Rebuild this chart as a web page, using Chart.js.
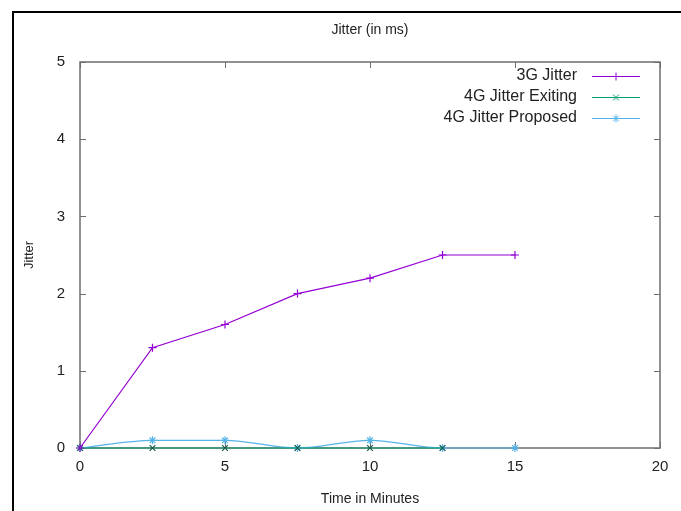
<!DOCTYPE html>
<html>
<head>
<meta charset="utf-8">
<script src="https://cdn.jsdelivr.net/npm/chart.js@4/dist/chart.umd.min.js"></script>
<style>
  html, body { margin: 0; padding: 0; background: #ffffff; }
  #wrap { width: 681px; height: 511px; position: relative; overflow: hidden; }
  canvas { display: block; }
</style>
</head>
<body>
<div id="wrap"><canvas id="c" width="681" height="511"></canvas></div>
<script>
// ---- data ----
const timeMinutes        = [0, 2.5, 5, 7.5, 10, 12.5, 15];
const jitter3G           = [0, 1.3, 1.6, 2.0, 2.2, 2.5, 2.5];
const jitter4GExisting   = [0, 0, 0, 0, 0, 0];
const jitter4GProposed   = [0, 0.1, 0.1, 0, 0.1, 0, 0];
const xTickValues        = [0, 5, 10, 15, 20];
const yTickValues        = [0, 1, 2, 3, 4, 5];
const seriesLabels       = ['3G Jitter', '4G Jitter Exiting', '4G Jitter Proposed'];
const chartTitle         = 'Jitter (in ms)';
const xAxisTitle         = 'Time in Minutes';
const yAxisTitle         = 'Jitter';

const FONT = '"Liberation Sans", Arial, sans-serif';

function toPoints(xs, ys) {
  return ys.map((y, i) => ({ x: xs[i], y: y }));
}

// outer frame (white background + black border)
const framePlugin = {
  id: 'frame',
  beforeDraw(chart) {
    const ctx = chart.ctx;
    ctx.save();
    ctx.fillStyle = '#ffffff';
    ctx.fillRect(0, 0, chart.width, chart.height);
    ctx.strokeStyle = '#000000';
    ctx.lineWidth = 2;
    ctx.strokeRect(13, 12, 720, 620);
    ctx.restore();
  }
};

// plot box with inward (mirrored) tick marks, gnuplot style
const boxPlugin = {
  id: 'box',
  beforeDatasetsDraw(chart) {
    const { ctx, chartArea: a, scales } = chart;
    ctx.save();
    ctx.strokeStyle = '#6e6e6e';
    ctx.lineWidth = 1.5;
    ctx.strokeRect(a.left, a.top, a.right - a.left, a.bottom - a.top);
    ctx.lineWidth = 1;
    ctx.beginPath();
    const tl = 6;
    yTickValues.forEach(v => {
      const y = Math.round(scales.y.getPixelForValue(v)) + 0.5;
      ctx.moveTo(a.left, y); ctx.lineTo(a.left + tl, y);
      ctx.moveTo(a.right, y); ctx.lineTo(a.right - tl, y);
    });
    xTickValues.forEach(v => {
      const x = Math.round(scales.x.getPixelForValue(v)) + 0.5;
      ctx.moveTo(x, a.bottom); ctx.lineTo(x, a.bottom - tl);
      ctx.moveTo(x, a.top); ctx.lineTo(x, a.top + tl);
    });
    ctx.stroke();
    ctx.restore();
  }
};

// gnuplot-style key: right-aligned text, sample line with marker to the right
const keyPlugin = {
  id: 'gnuKey',
  afterDatasetsDraw(chart) {
    const ctx = chart.ctx;
    const a = chart.chartArea;
    const textRight = a.right - 83;
    const lineL = a.right - 68, lineR = a.right - 20;
    const y0 = a.top + 14, dy = 21;
    ctx.save();
    ctx.font = '16px ' + FONT;
    ctx.textAlign = 'right';
    ctx.textBaseline = 'middle';
    chart.data.datasets.forEach((ds, i) => {
      const y = y0 + i * dy;
      ctx.fillStyle = '#222222';
      ctx.fillText(ds.label, textRight, y);
      ctx.strokeStyle = ds.borderColor;
      ctx.lineWidth = 1;
      ctx.beginPath();
      ctx.moveTo(lineL, y + 0.5); ctx.lineTo(lineR, y + 0.5);
      ctx.stroke();
      Chart.helpers.drawPoint(ctx, {
        pointStyle: ds.pointStyle, radius: ds.pointRadius, borderWidth: 1, rotation: 0
      }, (lineL + lineR) / 2, y + 0.5);
    });
    ctx.restore();
  }
};

const common = {
  borderWidth: 1.2,
  pointRadius: 4,
  pointBorderWidth: 1.2,
  pointBackgroundColor: 'transparent',
  fill: false,
  clip: false
};

new Chart(document.getElementById('c'), {
  type: 'line',
  data: {
    datasets: [
      Object.assign({}, common, {
        label: seriesLabels[0],
        data: toPoints(timeMinutes, jitter3G),
        borderColor: '#9400D3',
        pointBorderColor: '#9400D3',
        pointStyle: 'cross',
        tension: 0
      }),
      Object.assign({}, common, {
        label: seriesLabels[1],
        data: toPoints(timeMinutes, jitter4GExisting),
        borderColor: '#009E73',
        pointBorderColor: '#1a5a48',
        pointStyle: 'crossRot',
        tension: 0
      }),
      Object.assign({}, common, {
        label: seriesLabels[2],
        data: toPoints(timeMinutes, jitter4GProposed),
        borderColor: '#56B4E9',
        pointBorderColor: '#56B4E9',
        pointStyle: 'star',
        cubicInterpolationMode: 'monotone'
      })
    ]
  },
  options: {
    responsive: false,
    animation: false,
    devicePixelRatio: 1,
    layout: { padding: { left: 0, right: 21, top: 0, bottom: 0 } },
    plugins: {
      legend: { display: false },
      tooltip: { enabled: false },
      title: {
        display: true,
        text: chartTitle,
        fullSize: false,
        color: '#222222',
        font: { family: FONT, size: 14, weight: 'normal' },
        padding: { top: 22, bottom: 23.2 }
      }
    },
    scales: {
      x: {
        type: 'linear',
        min: 0, max: 20,
        afterFit(s) { s.height = 63; },
        afterBuildTicks(s) { s.ticks = xTickValues.map(v => ({ value: v })); },
        grid: { display: false, drawTicks: false },
        border: { display: false },
        ticks: { color: '#222222', font: { family: FONT, size: 15 }, padding: 10, maxRotation: 0 },
        title: {
          display: true, text: xAxisTitle, color: '#222222',
          font: { family: FONT, size: 14 }, padding: { top: 0, bottom: 3 }
        }
      },
      y: {
        type: 'linear',
        min: 0, max: 5,
        afterFit(s) { s.width = 80; },
        afterBuildTicks(s) { s.ticks = yTickValues.map(v => ({ value: v })); },
        grid: { display: false, drawTicks: false },
        border: { display: false },
        ticks: { color: '#222222', font: { family: FONT, size: 15 }, padding: 15 },
        title: {
          display: true, text: yAxisTitle, color: '#222222',
          font: { family: FONT, size: 13 }, padding: { top: 22, bottom: 0 }
        }
      }
    }
  },
  plugins: [framePlugin, boxPlugin, keyPlugin]
});
</script>
</body>
</html>
